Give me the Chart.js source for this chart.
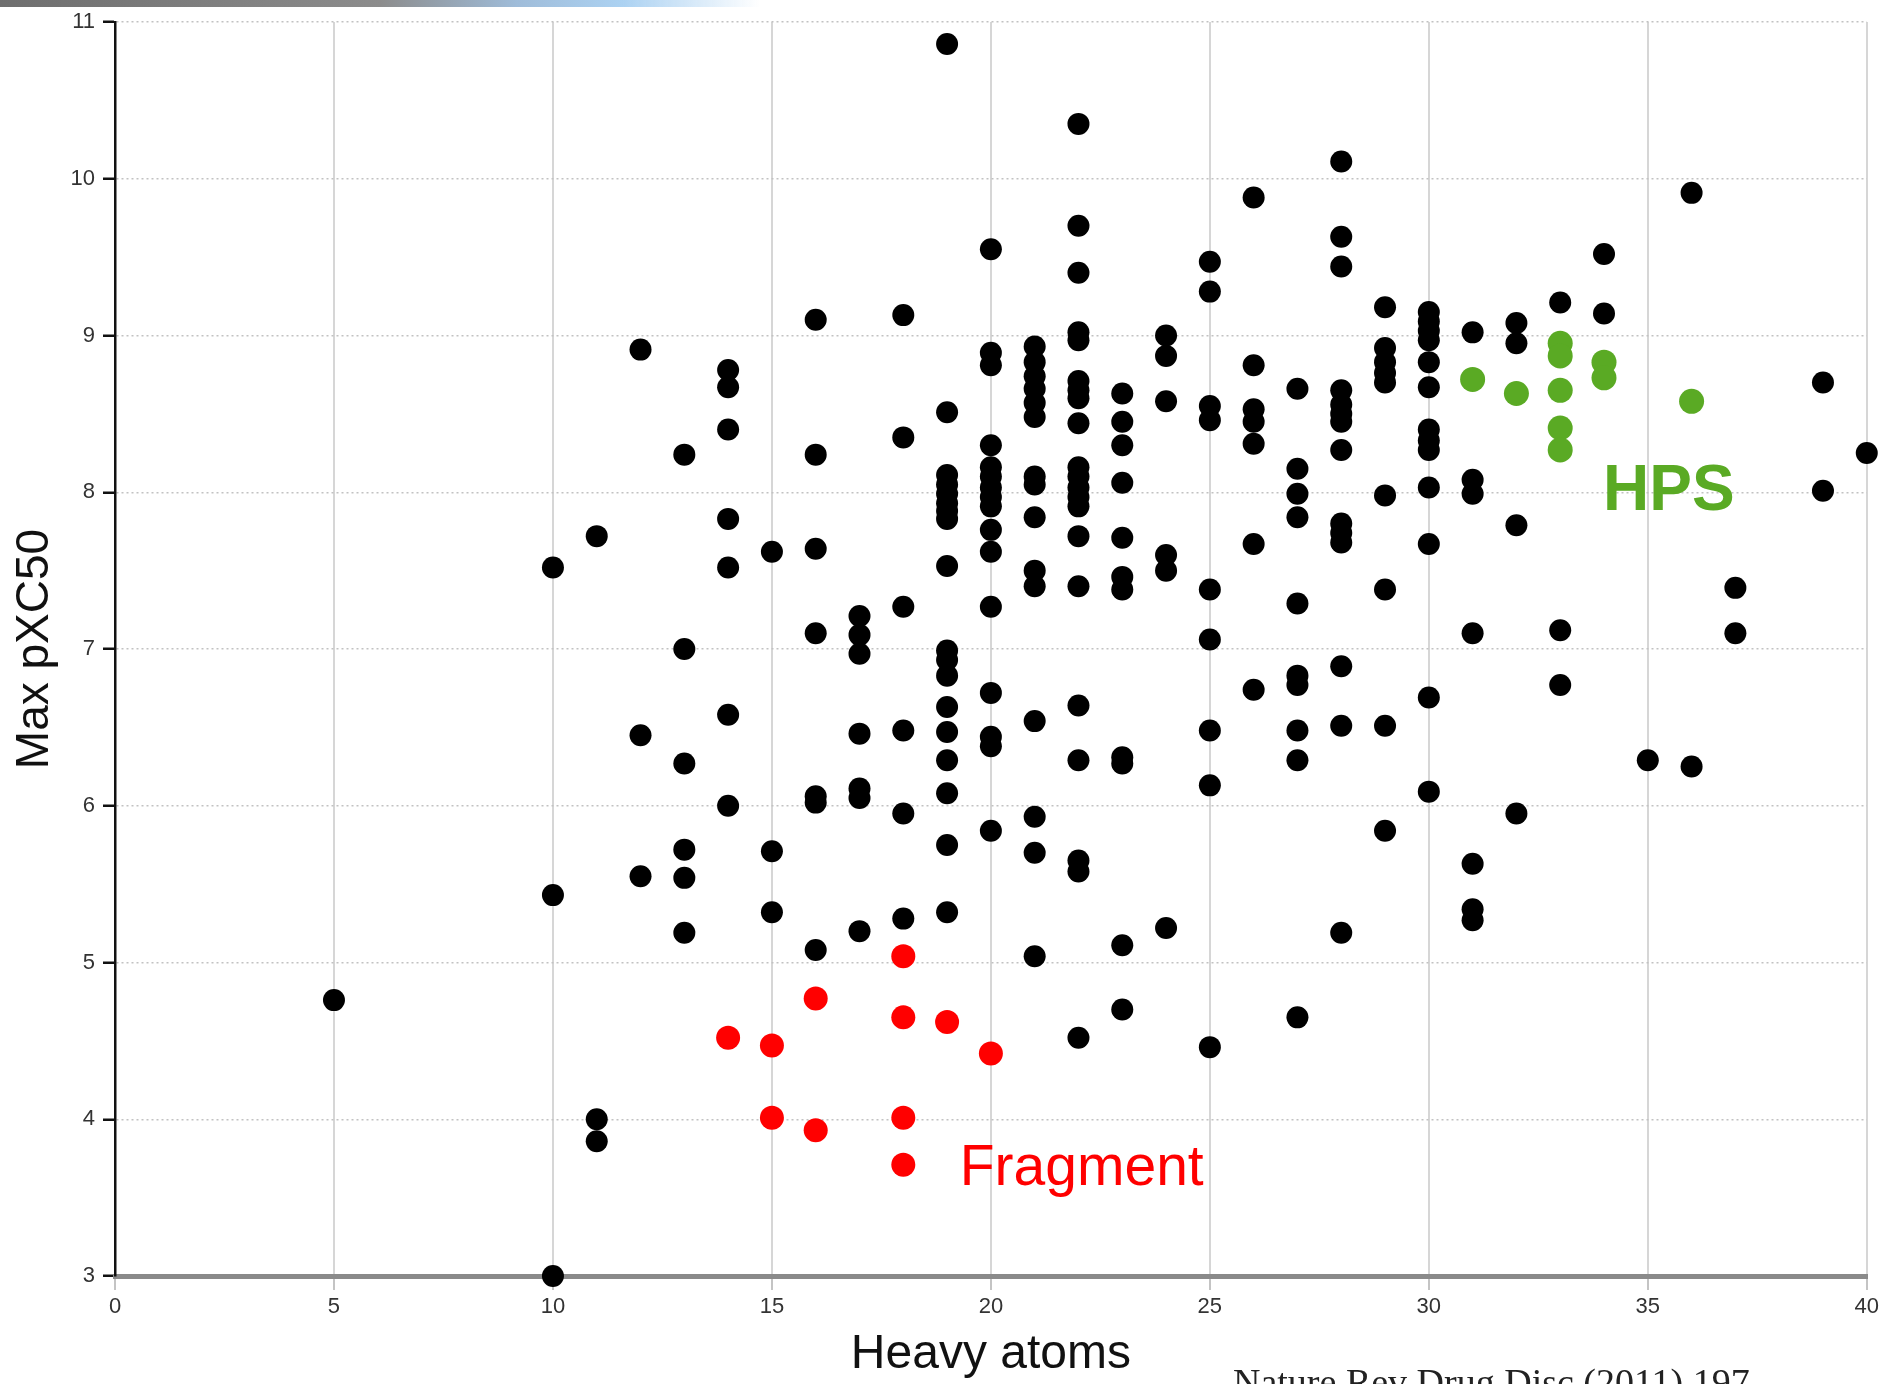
<!DOCTYPE html>
<html>
<head>
<meta charset="utf-8">
<script src="https://cdn.jsdelivr.net/npm/chart.js@4.4.0/dist/chart.umd.min.js"></script>
<style>
  html, body { margin: 0; padding: 0; background: #fff; overflow: hidden; }
  #topbar {
    position: absolute; left: 0; top: 0; width: 760px; height: 7px;
    background: linear-gradient(to right, #6e6e6e 0%, #8c8c8c 50%, #9fbcd9 68%, #acd2f2 82%, rgba(255,255,255,0) 100%);
  }
  #wrap { position: absolute; left: 0; top: 0; width: 1883px; height: 1384px; }
</style>
</head>
<body>
<div id="wrap"><canvas id="chart" width="1883" height="1384"></canvas></div>
<div id="topbar"></div>
<script>
// heavy atom count of each column, and the max pXC50 values stacked in it
var otherAtoms = [5, 10, 11, 12, 13, 14, 15, 16, 17, 18, 19, 20, 21, 22, 23, 24, 25, 26, 27, 28, 29, 30, 31, 32, 33, 34, 35, 36, 37, 39, 40]
var otherPxc50 = [
  [4.76],
  [7.52, 5.43, 3.0],
  [7.72, 4.00, 3.86],
  [8.91, 6.45, 5.55],
  [8.24, 7.00, 6.27, 5.72, 5.54, 5.19],
  [8.78, 8.67, 8.40, 7.83, 7.52, 6.58, 6.00],
  [7.62, 5.71, 5.32],
  [9.10, 8.24, 7.64, 7.10, 6.06, 6.02, 5.08],
  [7.21, 7.09, 6.97, 6.46, 6.11, 6.05, 5.20],
  [9.13, 8.35, 7.27, 6.48, 5.95, 5.28],
  [10.86, 8.51, 8.11, 8.05, 7.99, 7.93, 7.88, 7.83, 7.53, 6.99, 6.93, 6.83, 6.63, 6.47, 6.29, 6.08, 5.75, 5.32],
  [9.55, 8.89, 8.81, 8.30, 8.16, 8.10, 8.03, 7.97, 7.91, 7.76, 7.62, 7.27, 6.72, 6.44, 6.38, 5.84],
  [8.93, 8.83, 8.74, 8.66, 8.57, 8.48, 8.10, 8.05, 7.84, 7.50, 7.40, 6.54, 5.93, 5.70, 5.04],
  [10.35, 9.70, 9.40, 9.02, 8.97, 8.71, 8.65, 8.60, 8.44, 8.16, 8.10, 8.03, 7.97, 7.91, 7.72, 7.40, 6.64, 6.29, 5.65, 5.58, 4.52],
  [8.63, 8.45, 8.30, 8.06, 7.71, 7.46, 7.38, 6.31, 6.27, 5.11, 4.70],
  [9.00, 8.87, 8.58, 7.60, 7.50, 5.22],
  [9.47, 9.28, 8.55, 8.46, 7.38, 7.06, 6.48, 6.13, 4.46],
  [9.88, 8.81, 8.53, 8.45, 8.31, 7.67, 6.74],
  [8.66, 8.15, 7.99, 7.84, 7.29, 6.83, 6.77, 6.48, 6.29, 4.65],
  [10.11, 9.63, 9.44, 8.65, 8.56, 8.50, 8.45, 8.27, 7.80, 7.74, 7.68, 6.89, 6.51, 5.19],
  [9.18, 8.92, 8.83, 8.76, 8.70, 7.98, 7.38, 6.51, 5.84],
  [9.15, 9.09, 9.03, 8.97, 8.83, 8.67, 8.40, 8.33, 8.27, 8.03, 7.67, 6.69, 6.09],
  [9.02, 8.08, 7.99, 7.10, 5.63, 5.34, 5.27],
  [9.08, 8.95, 7.79, 5.95],
  [9.21, 7.12, 6.77],
  [9.52, 9.14],
  [6.29],
  [9.91, 6.25],
  [7.39, 7.10],
  [8.70, 8.01],
  [8.25]
]

var fragmentAtoms = [14, 15, 16, 18, 19, 20]
var fragmentPxc50 = [
  [4.52],
  [4.47, 4.01],
  [4.77, 3.93],
  [5.04, 4.65, 4.01, 3.71],
  [4.62],
  [4.42]
]

var hpsAtoms = [31, 32, 33, 34, 36]
var hpsPxc50 = [
  [8.72],
  [8.63],
  [8.95, 8.87, 8.65, 8.41, 8.27],
  [8.83, 8.73],
  [8.58]
]

var xTicks = [0, 5, 10, 15, 20, 25, 30, 35, 40]
var yTicks = [3, 4, 5, 6, 7, 8, 9, 10, 11]

// where the two group labels sit, in data units
var hpsLabelAt = [35.48, 8.0]
var fragmentLabelAt = [19.29, 3.58]
var citation = 'Nature Rev Drug Disc (2011) 197'


function toPoints(atoms, values) {
    var pts = []
    for (var i = 0; i < atoms.length; i++) {
        for (var j = 0; j < values[i].length; j++) {
            pts.push({x: atoms[i], y: values[i][j]})
        }
    }
    return pts
}

var labelsPlugin = {
    id: 'groupLabels',
    afterDatasetsDraw: function(chart) {
        var ctx = chart.ctx
        var xs = chart.scales.x
        var ys = chart.scales.y
        ctx.save()

        ctx.fillStyle = '#5aaa24'
        ctx.font = 'bold 64px "Liberation Sans", Arial, sans-serif'
        ctx.textAlign = 'center'
        ctx.textBaseline = 'middle'
        ctx.fillText('HPS', xs.getPixelForValue(hpsLabelAt[0]), ys.getPixelForValue(hpsLabelAt[1]))

        ctx.fillStyle = '#ff0000'
        ctx.font = '57px "Liberation Sans", Arial, sans-serif'
        ctx.textAlign = 'left'
        ctx.textBaseline = 'alphabetic'
        ctx.fillText('Fragment', xs.getPixelForValue(fragmentLabelAt[0]), ys.getPixelForValue(fragmentLabelAt[1]))

        ctx.fillStyle = '#222'
        ctx.font = '38px "Liberation Serif", "Times New Roman", serif'
        ctx.fillText(citation, 1233, 1395)
        ctx.restore()
    }
}

document.addEventListener('DOMContentLoaded', function() {
    var ctx = document.getElementById('chart').getContext('2d')
    var chart = new Chart(ctx, {
        type: 'scatter',
        data: {
            datasets: [{
                label: 'Compounds',
                data: toPoints(otherAtoms, otherPxc50),
                backgroundColor: '#000',
                pointRadius: 11,
                pointBorderWidth: 0,
                clip: false
            }, {
                label: 'Fragment',
                data: toPoints(fragmentAtoms, fragmentPxc50),
                backgroundColor: '#ff0000',
                pointRadius: 12,
                pointBorderWidth: 0,
                clip: false
            }, {
                label: 'HPS',
                data: toPoints(hpsAtoms, hpsPxc50),
                backgroundColor: '#5aaa24',
                pointRadius: 12.5,
                pointBorderWidth: 0,
                clip: false
            }]
        },
        options: {
            responsive: false,
            animation: false,
            devicePixelRatio: 1,
            layout: { padding: { top: 22, right: 16, left: 0, bottom: 0 } },
            plugins: {
                legend: { display: false },
                tooltip: { enabled: false }
            },
            scales: {
                x: {
                    type: 'linear',
                    min: 0,
                    max: 40,
                    afterBuildTicks: function(scale) {
                        scale.ticks = xTicks.map(function(v) { return {value: v} })
                    },
                    afterFit: function(scale) { scale.height = 108 },
                    ticks: {
                        color: '#333',
                        padding: 4,
                        maxRotation: 0,
                        font: { family: '"Liberation Sans", Arial, sans-serif', size: 22 }
                    },
                    grid: {
                        color: '#d6d6d6',
                        lineWidth: 2,
                        tickLength: 14,
                        tickColor: '#c4c4c4',
                        tickWidth: 2
                    },
                    border: { display: true, color: '#8a8a8a', width: 5 },
                    title: {
                        display: true,
                        text: 'Heavy atoms',
                        color: '#111',
                        padding: { top: 0, bottom: 0 },
                        font: { family: '"Liberation Sans", Arial, sans-serif', size: 48 }
                    }
                },
                y: {
                    type: 'linear',
                    min: 3,
                    max: 11,
                    afterBuildTicks: function(scale) {
                        scale.ticks = yTicks.map(function(v) { return {value: v} })
                    },
                    afterFit: function(scale) { scale.width = 115 },
                    ticks: {
                        color: '#333',
                        padding: 8,
                        font: { family: '"Liberation Sans", Arial, sans-serif', size: 22 }
                    },
                    grid: {
                        color: '#c2c2c2',
                        lineWidth: 1.5,
                        tickLength: 12,
                        tickColor: '#111',
                        tickWidth: 2.5,
                        tickBorderDash: []
                    },
                    border: { display: true, color: '#111', width: 2.5, dash: [2, 3] },
                    title: {
                        display: true,
                        text: 'Max pXC50',
                        color: '#111',
                        padding: { top: 8, bottom: 0 },
                        font: { family: '"Liberation Sans", Arial, sans-serif', size: 46 }
                    }
                }
            }
        },
        plugins: [labelsPlugin]
    })
})
</script>
</body>
</html>
